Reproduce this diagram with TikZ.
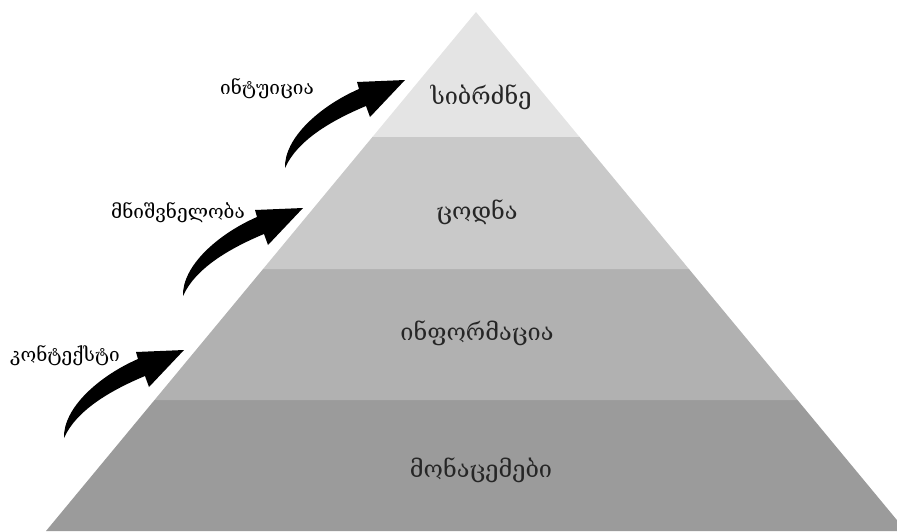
\documentclass[tikz,border=0pt]{standalone}
\usepackage{fontspec}
\usetikzlibrary{calc}
\newfontfamily\geo{DejaVu Serif}
\definecolor{bandA}{HTML}{E4E4E4}
\definecolor{bandB}{HTML}{C9C9C9}
\definecolor{bandC}{HTML}{B1B1B1}
\definecolor{bandD}{HTML}{9B9B9B}
\tikzset{
  level/.style={font=\geo\fontsize{23.5}{28}\selectfont, text=black!85},
  sidelabel/.style={font=\geo\fontsize{19}{22}\selectfont, text=black},
  bigarrow/.pic={
    % tapered curved shaft with a triangular head, tail at the origin
    \fill[black] (0,0)
      .. controls (-1,-30) and (35,-62) .. (74,-79)
      -- (72,-86) -- (120,-88) -- (85,-51) -- (81,-62)
      .. controls (45,-47) and (12,-27) .. (0,0) -- cycle;
  }
}
\begin{document}
\begin{tikzpicture}[x=1pt,y=-1pt]
  \useasboundingbox (0,0) rectangle (897,531);
  \clip (0,0) rectangle (897,531);
  % pyramid outline points
  \coordinate (apex) at (476,12);
  \coordinate (bl) at (46,531);
  \coordinate (br) at (906,531);
  \coordinate (l1) at ($(apex)!0.2408!(bl)$);
  \coordinate (r1) at ($(apex)!0.2408!(br)$);
  \coordinate (l2) at ($(apex)!0.4952!(bl)$);
  \coordinate (r2) at ($(apex)!0.4952!(br)$);
  \coordinate (l3) at ($(apex)!0.7476!(bl)$);
  \coordinate (r3) at ($(apex)!0.7476!(br)$);
  % four horizontal bands
  \fill[bandD] (l3) -- (r3) -- (br) -- (bl) -- cycle;
  \fill[bandC] (l2) -- (r2) -- (r3) -- (l3) -- cycle;
  \fill[bandB] (l1) -- (r1) -- (r2) -- (l2) -- cycle;
  \fill[bandA] (apex) -- (r1) -- (l1) -- cycle;
  % band titles
  \node[level] (wisdom) at (481,97) {სიბრძნე};
  \node[level] (knowledge) at (477,212) {ცოდნა};
  \node[level] (information) at (477,333) {ინფორმაცია};
  \node[level] (data) at (481,470) {მონაცემები};
  % transition arrows and their labels
  \pic at (285,168) {bigarrow};
  \pic at (183,296) {bigarrow};
  \pic at (64,438) {bigarrow};
  \node[sidelabel] (intuition) at (267,89) {ინტუიცია};
  \node[sidelabel] (meaning) at (178,213) {მნიშვნელობა};
  \node[sidelabel] (context) at (65,356) {კონტექსტი};
\end{tikzpicture}
\end{document}
